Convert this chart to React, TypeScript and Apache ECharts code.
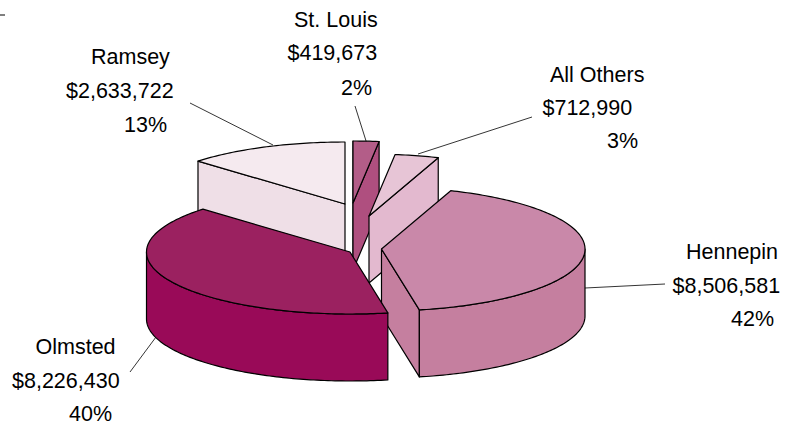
import React, { useEffect, useRef } from "react";
import * as echarts from "echarts";

const names = ["St. Louis", "All Others", "Hennepin", "Olmsted", "Ramsey"];
const values = [419673, 712990, 8506581, 8226430, 2633722];
const valueLabels = ["$419,673", "$712,990", "$8,506,581", "$8,226,430", "$2,633,722"];
const percentLabels = ["2%", "3%", "42%", "40%", "13%"];
const topColors = ["#B35D88", "#E7C5D6", "#C988A9", "#9B2160", "#F5EAEF"];
const sideColors = ["#AF4F7F", "#E3B9CF", "#C57F9F", "#990A58", "#EFDFE7"];
const drawOrder = [4, 0, 1, 2, 3];

// layout only
const RX = 203.5, RY = 62, DEPTH = 67, START_DEG = 270;
const apexes = [[353, 203], [369, 216], [381.5, 249], [350, 252], [345, 204]];
const labelPos = [
  [[294, 20], [287.5, 53], [341, 87.5]],
  [[550, 74.5], [542.5, 108], [607, 141]],
  [[686, 252], [672.5, 285.5], [731, 319]],
  [[35.5, 346.5], [12, 380.5], [69, 414]],
  [[91, 57], [66, 91], [124, 124.5]],
];
const leaders = [
  [[355, 106], [367, 144]],
  [[532, 117], [418, 154]],
  [[665, 284], [585, 288]],
  [[130, 372], [156, 337]],
  [[190, 103], [273, 145]],
];

const total = values.reduce((a, b) => a + b, 0);
const bounds: number[][] = [];
{
  let a = START_DEG;
  values.forEach((v) => {
    const b = a + (v / total) * 360;
    bounds.push([a, b]);
    a = b;
  });
}
const rad = (d: number) => (d * Math.PI) / 180;

function renderItem(params: any, api: any) {
  const i = api.value(1);
  const [ax, ay] = apexes[i];
  const [a0, a1] = bounds[i];
  const pt = (deg: number, dy = 0) => [ax + RX * Math.cos(rad(deg)), ay + RY * Math.sin(rad(deg)) + dy];
  const arc = (from: number, to: number, dy = 0) => {
    const out: number[][] = [];
    const n = Math.max(2, Math.ceil(Math.abs(to - from)));
    for (let k = 0; k <= n; k++) out.push(pt(from + ((to - from) * k) / n, dy));
    return out;
  };
  const style = (fill: string) => ({ fill, stroke: "#000", lineWidth: 1.2, lineJoin: "round" });
  const children: any[] = [];
  const face = (deg: number) => {
    const p = pt(deg);
    children.push({
      type: "polygon",
      shape: { points: [[ax, ay], p, [p[0], p[1] + DEPTH], [ax, ay + DEPTH]] },
      style: style(sideColors[i]),
    });
  };
  // radial faces that look towards the viewer
  if (Math.sin(rad(a0 - 90)) > 0) face(a0);
  if (Math.sin(rad(a1 + 90)) > 0) face(a1);
  // outer rim: the part of the arc in the front half
  for (const turn of [0, 360, 720]) {
    const from = Math.max(a0, turn);
    const to = Math.min(a1, turn + 180);
    if (to > from) {
      children.push({
        type: "polygon",
        shape: { points: [...arc(from, to), ...arc(to, from, DEPTH)] },
        style: style(sideColors[i]),
      });
    }
  }
  children.push({
    type: "polygon",
    shape: { points: [[ax, ay], ...arc(a0, a1)] },
    style: style(topColors[i]),
  });
  return { type: "group", children };
}

export default function App() {
  const ref = useRef<HTMLDivElement>(null);
  useEffect(() => {
    document.body.style.margin = "0";
    const chart = echarts.init(ref.current!, null, { renderer: "svg" });
    const textEls: any[] = [];
    names.forEach((name, i) => {
      [name, valueLabels[i], percentLabels[i]].forEach((t, j) => {
        textEls.push({
          type: "text",
          x: labelPos[i][j][0],
          y: labelPos[i][j][1],
          style: { text: t, fill: "#000", font: "21.5px 'Liberation Sans', Arial, sans-serif", textVerticalAlign: "middle" },
        });
      });
    });
    const lineEls = leaders.map((l) => ({
      type: "line",
      z: -1,
      shape: { x1: l[0][0], y1: l[0][1], x2: l[1][0], y2: l[1][1] },
      style: { stroke: "#000", lineWidth: 0.8 },
    }));
    chart.setOption({
      animation: false,
      backgroundColor: "#fff",
      graphic: [
        ...lineEls,
        ...textEls,
        { type: "line", shape: { x1: 0, y1: 15, x2: 5, y2: 15 }, style: { stroke: "#000", lineWidth: 1 } },
      ],
      series: [
        {
          type: "custom",
          coordinateSystem: "none",
          silent: true,
          renderItem,
          data: drawOrder.map((i) => [values[i], i]),
        },
      ],
    });
    return () => chart.dispose();
  }, []);
  return <div ref={ref} style={{ width: 793, height: 425 }} />;
}
